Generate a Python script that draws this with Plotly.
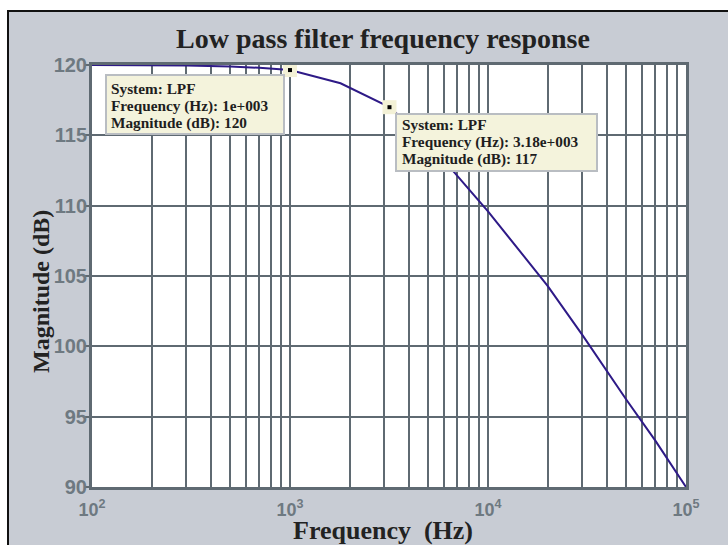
import plotly.graph_objects as go

# Data
freq_hz = [100, 200, 300, 500, 700, 1000, 1800, 3180, 5000, 10000, 12500, 20000, 30000, 50000, 70000, 100000]
mag_db = [120.0, 119.98, 119.96, 119.9, 119.8, 119.64, 118.7, 117.0, 114.5, 109.6, 107.9, 104.3, 100.8, 96.2, 93.3, 90.0]

tip_freq = [1000, 3180]
tip_mag = [119.64, 117.0]
tip_lines = [
    ["System: LPF", "Frequency (Hz): 1e+003", "Magnitude (dB): 120"],
    ["System: LPF", "Frequency (Hz): 3.18e+003", "Magnitude (dB): 117"],
]

title_text = "Low pass filter frequency response"
x_title = "Frequency  (Hz)"
y_title = "Magnitude (dB)"

y_ticks = [90, 95, 100, 105, 110, 115, 120]
decades = [2, 3, 4, 5]
x_major = [10 ** d for d in decades]
x_major_text = [f"10<sup>{d}</sup>" for d in decades]
x_minor = [m * 10 ** d for d in decades[:-1] for m in range(2, 10)]

GRID = "#5f6a72"
TICKC = "#6e7981"
BG = "#c8ccd4"
TIPBG = "#f4f3dc"

fig = go.Figure()
fig.add_trace(go.Scatter(x=freq_hz, y=mag_db, mode="lines",
                         line=dict(color="#2e1a87", width=2), showlegend=False,
                         hoverinfo="skip"))
fig.add_trace(go.Scatter(x=tip_freq, y=tip_mag, mode="markers",
                         marker=dict(symbol="square", size=14, color="#f3f1d6",
                                     line=dict(width=0)),
                         showlegend=False, hoverinfo="skip"))
fig.add_trace(go.Scatter(x=tip_freq, y=tip_mag, mode="markers",
                         marker=dict(symbol="square", size=4, color="black"),
                         showlegend=False, hoverinfo="skip"))

W, H = 728, 545
L, R, T, B = 92, 42, 65, 58
pw, ph = W - L - R, H - T - B

def px_x(p):
    return (p - L) / pw

def px_y(p):
    return (H - B - p) / ph

fig.add_shape(type="rect", xref="paper", yref="paper",
              x0=px_x(8), x1=px_x(760), y0=px_y(580), y1=px_y(11),
              fillcolor=BG, line=dict(color="#111111", width=2), layer="below")
fig.add_shape(type="rect", xref="paper", yref="paper",
              x0=0, x1=1, y0=0, y1=1,
              fillcolor="white", line=dict(width=0), layer="below")

ann_font = dict(family="Liberation Serif", size=15.3, color="#1e1e1e", weight="bold")

# data tip boxes: (box offsets, size, text x offset, line y offsets)
tip_layout = [
    dict(bx=-5, by=-4, w=176, h=57, xanchor="right", tx=-180, ty=[-18, -35.6, -53.2]),
    dict(bx=6, by=-6, w=199, h=55, xanchor="left", tx=12, ty=[-17, -34.6, -52.2]),
]
for i in range(2):
    lay = tip_layout[i]
    lx = [2.9999, 3.5024][i]
    fig.add_annotation(x=lx, y=tip_mag[i], xref="x", yref="y", text=" ",
                       showarrow=False, xanchor=lay["xanchor"], yanchor="top",
                       xshift=lay["bx"], yshift=lay["by"], width=lay["w"], height=lay["h"],
                       bgcolor=TIPBG, bordercolor="#b9bdc2", borderwidth=2, borderpad=0,
                       font=dict(size=4))
    for j, line in enumerate(tip_lines[i]):
        fig.add_annotation(x=lx, y=tip_mag[i], xref="x", yref="y", text=line,
                           showarrow=False, xanchor="left", yanchor="middle",
                           xshift=lay["tx"], yshift=lay["ty"][j],
                           font=ann_font, borderpad=0)

# axis titles
fig.add_annotation(x=px_x(383), y=px_y(530), xref="paper", yref="paper", text=x_title,
                   showarrow=False, xanchor="center", yanchor="middle",
                   font=dict(family="Liberation Serif", size=26, color="#222222", weight="bold"))
fig.add_annotation(x=px_x(41), y=px_y(292), xref="paper", yref="paper", text=y_title,
                   showarrow=False, xanchor="center", yanchor="middle", textangle=-90,
                   font=dict(family="Liberation Serif", size=24, color="#222222", weight="bold"))

fig.update_layout(
    width=W, height=H,
    margin=dict(l=L, r=R, t=T, b=B),
    paper_bgcolor="white",
    plot_bgcolor="white",
    title=dict(text=title_text,
               x=383 / W, xanchor="center",
               y=1 - 38 / H, yanchor="middle",
               font=dict(family="Liberation Serif", size=28, color="#222222", weight="bold")),
    xaxis=dict(type="log", range=[2, 5], tickmode="array",
               tickvals=x_major, ticktext=x_major_text, automargin=False,
               showgrid=True, gridcolor=GRID, gridwidth=2,
               minor=dict(tickmode="array", tickvals=x_minor, showgrid=True,
                          gridcolor=GRID, gridwidth=2, ticks=""),
               showline=True, linecolor=GRID, linewidth=3, mirror=True,
               ticks="", ticklen=0, ticklabelstandoff=4,
               tickfont=dict(family="Liberation Sans", size=18, color=TICKC, weight="bold"),
               zeroline=False),
    yaxis=dict(range=[90, 120], tickmode="array", tickvals=y_ticks, automargin=False,
               showgrid=True, gridcolor=GRID, gridwidth=2,
               showline=True, linecolor=GRID, linewidth=3, mirror=True,
               ticks="outside", ticklen=5, tickcolor=GRID, tickwidth=2,
               ticklabelstandoff=-7,
               tickfont=dict(family="Liberation Sans", size=20, color=TICKC, weight="bold"),
               zeroline=False),
)

fig.write_html("out.html")
